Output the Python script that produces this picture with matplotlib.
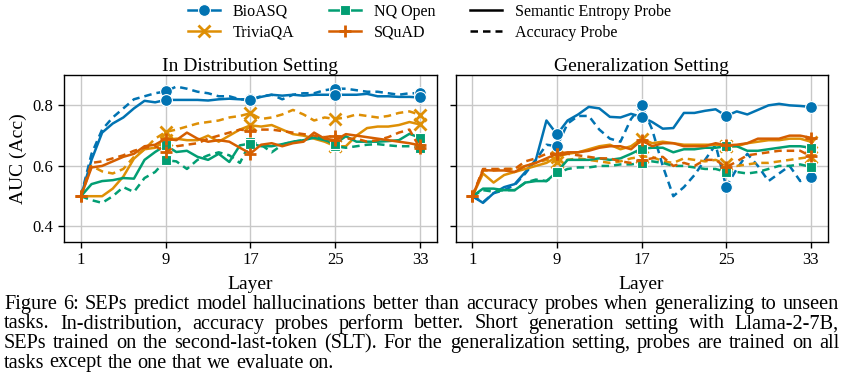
import matplotlib
matplotlib.use("Agg")
import matplotlib.pyplot as plt
from matplotlib.lines import Line2D

plt.rcParams['font.family'] = ['Liberation Serif', 'DejaVu Serif']

layers = list(range(1, 34))
mark_idx = [8, 16, 24, 32]

# In Distribution Setting (left panel)
bio_sep_id = [0.50, 0.62, 0.71, 0.74, 0.76, 0.79, 0.815, 0.81, 0.818, 0.818, 0.818, 0.818, 0.816, 0.82, 0.822, 0.82,
              0.818, 0.828, 0.835, 0.832, 0.835, 0.832, 0.835, 0.835, 0.835, 0.835, 0.835, 0.838, 0.83, 0.83, 0.828,
              0.828, 0.826]
bio_acc_id = [0.50, 0.64, 0.72, 0.76, 0.79, 0.82, 0.83, 0.84, 0.846, 0.862, 0.855, 0.845, 0.84, 0.83, 0.83, 0.82,
              0.82, 0.83, 0.835, 0.82, 0.835, 0.84, 0.84, 0.85, 0.855, 0.855, 0.85, 0.845, 0.845, 0.84, 0.835, 0.84,
              0.84]
tqa_sep_id = [0.50, 0.50, 0.50, 0.525, 0.565, 0.624, 0.655, 0.66, 0.685, 0.69, 0.685, 0.685, 0.70, 0.68, 0.70, 0.72,
              0.734, 0.73, 0.735, 0.72, 0.705, 0.70, 0.69, 0.68, 0.665, 0.665, 0.70, 0.725, 0.73, 0.73, 0.735, 0.745,
              0.737]
tqa_acc_id = [0.50, 0.60, 0.582, 0.575, 0.59, 0.63, 0.655, 0.69, 0.712, 0.72, 0.73, 0.74, 0.745, 0.75, 0.76, 0.765,
              0.774, 0.755, 0.76, 0.77, 0.785, 0.77, 0.75, 0.76, 0.755, 0.76, 0.77, 0.765, 0.76, 0.765, 0.775, 0.78,
              0.769]
nq_sep_id = [0.50, 0.54, 0.55, 0.553, 0.56, 0.558, 0.62, 0.646, 0.668, 0.646, 0.65, 0.63, 0.62, 0.64, 0.613, 0.668,
             0.674, 0.665, 0.665, 0.672, 0.68, 0.685, 0.693, 0.685, 0.674, 0.698, 0.68, 0.68, 0.68, 0.682, 0.685, 0.706,
             0.693]
nq_acc_id = [0.50, 0.487, 0.478, 0.50, 0.53, 0.514, 0.56, 0.58, 0.619, 0.615, 0.59, 0.62, 0.635, 0.645, 0.635, 0.61,
             0.679, 0.67, 0.645, 0.67, 0.68, 0.685, 0.70, 0.69, 0.665, 0.66, 0.665, 0.67, 0.672, 0.668, 0.665, 0.665,
             0.66]
sq_sep_id = [0.50, 0.595, 0.60, 0.615, 0.63, 0.64, 0.665, 0.67, 0.69, 0.685, 0.71, 0.69, 0.68, 0.685, 0.68, 0.66,
             0.641, 0.67, 0.675, 0.665, 0.675, 0.68, 0.71, 0.69, 0.685, 0.705, 0.70, 0.695, 0.69, 0.685, 0.68, 0.675,
             0.668]
sq_acc_id = [0.50, 0.61, 0.615, 0.625, 0.635, 0.65, 0.66, 0.665, 0.646, 0.665, 0.67, 0.675, 0.69, 0.70, 0.71, 0.72,
             0.716, 0.72, 0.72, 0.715, 0.71, 0.705, 0.70, 0.695, 0.70, 0.69, 0.69, 0.68, 0.685, 0.695, 0.71, 0.72,
             0.658]

# Generalization Setting (right panel)
bio_sep_gen = [0.50, 0.478, 0.51, 0.53, 0.54, 0.58, 0.62, 0.75, 0.704, 0.75, 0.77, 0.795, 0.79, 0.762, 0.76, 0.772,
               0.762, 0.745, 0.723, 0.725, 0.775, 0.775, 0.782, 0.787, 0.765, 0.78, 0.77, 0.785, 0.80, 0.805, 0.80,
               0.798, 0.795]
bio_acc_gen = [0.50, 0.48, 0.51, 0.52, 0.537, 0.575, 0.62, 0.67, 0.665, 0.74, 0.765, 0.765, 0.72, 0.69, 0.68, 0.755,
               0.80, 0.72, 0.60, 0.50, 0.53, 0.57, 0.62, 0.67, 0.531, 0.59, 0.64, 0.60, 0.55, 0.575, 0.60, 0.55,
               0.564]
tqa_sep_gen = [0.50, 0.575, 0.545, 0.57, 0.58, 0.59, 0.60, 0.61, 0.63, 0.64, 0.645, 0.655, 0.665, 0.67, 0.655, 0.665,
               0.69, 0.675, 0.68, 0.675, 0.67, 0.67, 0.67, 0.67, 0.665, 0.665, 0.675, 0.68, 0.685, 0.685, 0.69, 0.69,
               0.68]
tqa_acc_gen = [0.50, 0.585, 0.585, 0.59, 0.59, 0.60, 0.61, 0.62, 0.613, 0.62, 0.625, 0.62, 0.615, 0.61, 0.615, 0.625,
               0.63, 0.63, 0.615, 0.61, 0.625, 0.62, 0.615, 0.62, 0.605, 0.60, 0.605, 0.61, 0.61, 0.615, 0.62, 0.625,
               0.63]
nq_sep_gen = [0.50, 0.525, 0.525, 0.52, 0.52, 0.545, 0.55, 0.55, 0.58, 0.62, 0.62, 0.62, 0.625, 0.62, 0.625, 0.64,
              0.657, 0.66, 0.66, 0.645, 0.655, 0.655, 0.66, 0.66, 0.665, 0.665, 0.65, 0.65, 0.655, 0.66, 0.665, 0.665,
              0.66]
nq_acc_gen = [0.50, 0.52, 0.515, 0.52, 0.52, 0.545, 0.555, 0.55, 0.575, 0.59, 0.595, 0.595, 0.60, 0.60, 0.605, 0.605,
              0.61, 0.615, 0.61, 0.60, 0.60, 0.595, 0.59, 0.59, 0.58, 0.58, 0.575, 0.58, 0.59, 0.60, 0.60, 0.605,
              0.597]
sq_sep_gen = [0.50, 0.586, 0.585, 0.585, 0.58, 0.60, 0.61, 0.625, 0.64, 0.645, 0.645, 0.65, 0.66, 0.665, 0.665, 0.655,
              0.685, 0.665, 0.675, 0.675, 0.665, 0.665, 0.665, 0.675, 0.668, 0.67, 0.675, 0.69, 0.69, 0.69, 0.70, 0.70,
              0.693]
sq_acc_gen = [0.50, 0.59, 0.59, 0.59, 0.59, 0.615, 0.625, 0.64, 0.64, 0.64, 0.635, 0.63, 0.625, 0.625, 0.615, 0.61,
              0.619, 0.625, 0.63, 0.60, 0.61, 0.60, 0.62, 0.62, 0.595, 0.615, 0.635, 0.64, 0.645, 0.65, 0.65, 0.65,
              0.632]

tasks = ['BioASQ', 'TriviaQA', 'NQ Open', 'SQuAD']
colors = {'BioASQ': '#0173B2', 'TriviaQA': '#DE8F05', 'NQ Open': '#029E73', 'SQuAD': '#D55E00'}
markers = {'BioASQ': 'o', 'TriviaQA': 'x', 'NQ Open': 's', 'SQuAD': '+'}

panels = [
    ('In Distribution Setting', {
        'BioASQ': (bio_sep_id, bio_acc_id), 'TriviaQA': (tqa_sep_id, tqa_acc_id),
        'NQ Open': (nq_sep_id, nq_acc_id), 'SQuAD': (sq_sep_id, sq_acc_id)}),
    ('Generalization Setting', {
        'BioASQ': (bio_sep_gen, bio_acc_gen), 'TriviaQA': (tqa_sep_gen, tqa_acc_gen),
        'NQ Open': (nq_sep_gen, nq_acc_gen), 'SQuAD': (sq_sep_gen, sq_acc_gen)}),
]

caption = [
    'Figure 6: SEPs predict model hallucinations better than accuracy probes when generalizing to unseen',
    'tasks.  In-distribution, accuracy probes perform better.  Short generation setting with Llama-2-7B,',
    'SEPs trained on the second-last-token (SLT). For the generalization setting, probes are trained on all',
    'tasks except the one that we evaluate on.',
]


def marker_style(m):
    if m == 'o':
        return dict(markersize=8.5, markeredgecolor='white', markeredgewidth=0.8)
    if m == 's':
        return dict(markersize=7, markeredgecolor='white', markeredgewidth=0.8)
    return dict(markersize=8.5, markeredgewidth=2)


fig = plt.figure(figsize=(8.42, 3.91), dpi=100)
ax1 = fig.add_axes([0.076, 0.382, 0.443, 0.426])
ax2 = fig.add_axes([0.541, 0.382, 0.442, 0.426], sharey=ax1)

for ax, (title, data) in zip([ax1, ax2], panels):
    for task in tasks:
        sep, acc = data[task]
        m = markers[task]
        every = [0] + mark_idx if task == 'SQuAD' else mark_idx
        ax.plot(layers, acc, color=colors[task], ls=(0, (3, 2)), lw=1.8, marker=m, markevery=every,
                **marker_style(m))
        ax.plot(layers, sep, color=colors[task], ls='-', lw=1.8, marker=m, markevery=every, **marker_style(m))
    ax.set_title(title, fontsize=14, pad=0.5)
    ax.set_xticks([1, 9, 17, 25, 33])
    ax.set_yticks([0.4, 0.6, 0.8])
    ax.set_ylim(0.35, 0.9)
    ax.grid(True, color='#c8c8c8', lw=1)
    ax.set_axisbelow(True)
    ax.set_xlabel('Layer', fontsize=14, labelpad=6)
    ax.tick_params(labelsize=12, length=4, width=1)
    for s in ax.spines.values():
        s.set_linewidth(1)

ax1.set_ylabel('AUC (Acc)', fontsize=14)
ax2.tick_params(labelleft=False)

handles = []
for task in tasks:
    handles.append(Line2D([], [], color=colors[task], lw=1.8, marker=markers[task], label=task,
                          **marker_style(markers[task])))
handles.append(Line2D([], [], color='black', lw=1.8, ls='-', label='Semantic Entropy Probe'))
handles.append(Line2D([], [], color='black', lw=1.8, ls=(0, (3, 2)), label='Accuracy Probe'))

fig.legend(handles=handles, loc='upper center', bbox_to_anchor=(0.51, 1.027), ncol=3, frameon=False,
           fontsize=11.5, handlelength=2.0, columnspacing=2.2, labelspacing=0.3)

# caption, justified like the LaTeX source (one text per word)
W, H = 842, 391
cap_size = 14.6
renderer = fig.canvas.get_renderer()
x_left, x_right = 4, 839
for i, line in enumerate(caption):
    y = 1 - (309 + 19.5 * i) / H
    words = line.split()
    texts = [fig.text(0, y, w, fontsize=cap_size, ha='left', va='baseline') for w in words]
    widths = [t.get_window_extent(renderer).width for t in texts]
    if i < len(caption) - 1:
        gap = (x_right - x_left - sum(widths)) / (len(words) - 1)
    else:
        gap = 0.25 * cap_size * 100 / 72
    x = x_left
    for t, w in zip(texts, widths):
        t.set_x(x / W)
        x += w + gap

fig.savefig('out.png', dpi=100)
